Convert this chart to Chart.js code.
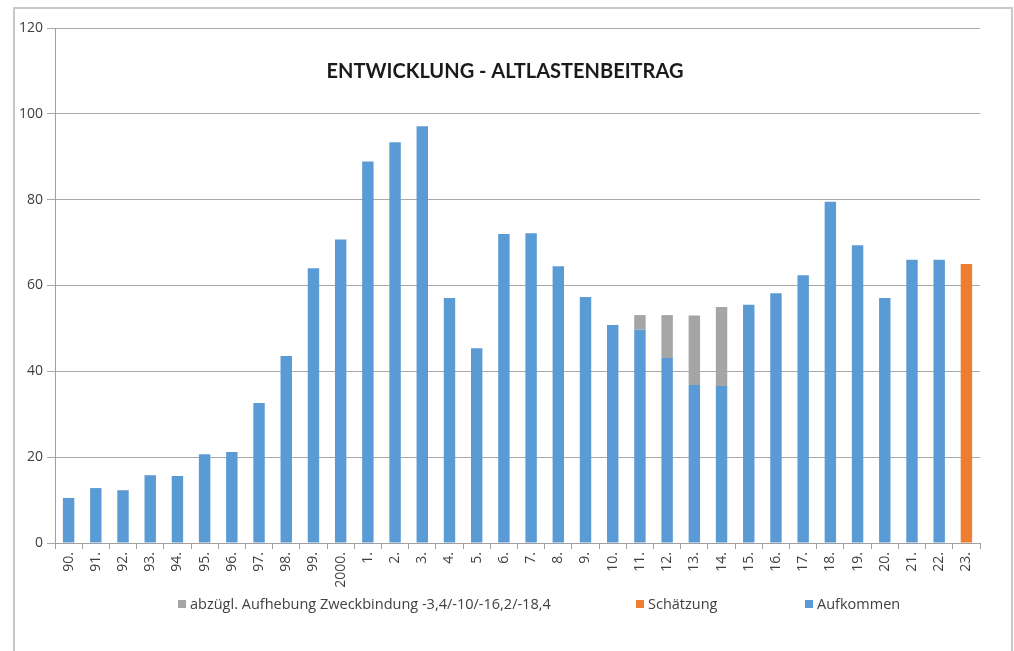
<!DOCTYPE html>
<html>
<head>
<meta charset="utf-8">
<script src="https://cdn.jsdelivr.net/npm/chart.js@4.4.1/dist/chart.umd.min.js"></script>
<style>
  body { margin: 0; background: #fff; }
  #wrap { position: relative; width: 1014px; height: 651px; overflow: hidden; }
  #frame { position: absolute; left: 13px; top: 7px; width: 996px; height: 700px; border: 2px solid #c8c8c8; border-bottom: none; }
  #chart { position: absolute; left: 0; top: 0; }
</style>
</head>
<body>
<div id="wrap">
  <div id="frame"></div>
  <canvas id="chart" width="1014" height="651"></canvas>
</div>
<script>
// Kategorien (Jahre)
const years = ['90.', '91.', '92.', '93.', '94.', '95.', '96.', '97.', '98.', '99.', '2000.',
  '1.', '2.', '3.', '4.', '5.', '6.', '7.', '8.', '9.', '10.', '11.', '12.', '13.', '14.',
  '15.', '16.', '17.', '18.', '19.', '20.', '21.', '22.', '23.'];

// Aufkommen (blau)
const aufkommen = [10.5, 12.8, 12.3, 15.8, 15.6, 20.7, 21.2, 32.6, 43.6, 64.0, 70.7,
  88.9, 93.4, 97.1, 57.1, 45.4, 72.0, 72.2, 64.5, 57.3, 50.8, 49.7, 43.1, 36.8, 36.6,
  55.5, 58.2, 62.4, 79.5, 69.4, 57.1, 66.0, 66.0, null];

// abzügl. Aufhebung Zweckbindung (grau), gestapelt auf Aufkommen
const zweckbindung = [null, null, null, null, null, null, null, null, null, null, null,
  null, null, null, null, null, null, null, null, null, null, 3.4, 10, 16.2, 18.4,
  null, null, null, null, null, null, null, null, null];

// Schätzung (orange)
const schaetzung = [null, null, null, null, null, null, null, null, null, null, null,
  null, null, null, null, null, null, null, null, null, null, null, null, null, null,
  null, null, null, null, null, null, null, null, 65];

const yTicks = [0, 20, 40, 60, 80, 100, 120];

const chartTitle = 'ENTWICKLUNG - ALTLASTENBEITRAG';
const FONT = '"Open Sans", Lato, sans-serif';

// Titel im Diagramm
const titlePlugin = {
  id: 'innerTitle',
  afterDraw(chart) {
    const ctx = chart.ctx;
    ctx.save();
    ctx.font = 'bold 20px Lato, sans-serif';
    ctx.fillStyle = '#1a1a1a';
    ctx.textAlign = 'center';
    ctx.textBaseline = 'middle';
    ctx.fillText(chartTitle, 505, 72);
    ctx.restore();
  }
};

// Legende unten, Reihenfolge wie im Original
const legendPos = [178, 636, 805];
const legendOrder = [1, 2, 0];
const legendPlugin = {
  id: 'bottomLegend',
  afterDraw(chart) {
    const ctx = chart.ctx;
    ctx.save();
    ctx.font = '14.5px ' + FONT;
    ctx.textBaseline = 'middle';
    ctx.textAlign = 'left';
    legendOrder.forEach((dsIndex, i) => {
      const ds = chart.data.datasets[dsIndex];
      const x = legendPos[i];
      const y = 604;
      ctx.fillStyle = ds.backgroundColor;
      ctx.fillRect(x, y - 4, 8, 8);
      ctx.fillStyle = '#404040';
      ctx.fillText(ds.label, x + 12, y + 1);
    });
    ctx.restore();
  }
};

const ctx = document.getElementById('chart').getContext('2d');

new Chart(ctx, {
  type: 'bar',
  data: {
    labels: years,
    datasets: [
      {
        label: 'Aufkommen',
        data: aufkommen,
        backgroundColor: '#5b9bd5',
        barPercentage: 0.42,
        categoryPercentage: 1
      },
      {
        label: 'abzügl. Aufhebung Zweckbindung -3,4/-10/-16,2/-18,4',
        data: zweckbindung,
        backgroundColor: '#a5a5a5',
        barPercentage: 0.42,
        categoryPercentage: 1
      },
      {
        label: 'Schätzung',
        data: schaetzung,
        backgroundColor: '#ed7d31',
        barPercentage: 0.42,
        categoryPercentage: 1
      }
    ]
  },
  options: {
    responsive: false,
    animation: false,
    layout: {
      padding: { left: 14, right: 34, top: 28, bottom: 58 }
    },
    plugins: {
      legend: { display: false },
      title: { display: false },
      tooltip: { enabled: false }
    },
    scales: {
      x: {
        stacked: true,
        afterFit: function (scale) { scale.height = 50; },
        border: { color: '#a0a0a0' },
        grid: {
          drawOnChartArea: false,
          tickLength: 6,
          color: '#a0a0a0',
          offset: true
        },
        ticks: {
          autoSkip: false,
          minRotation: 90,
          maxRotation: 90,
          padding: 3,
          color: '#404040',
          font: { family: FONT, size: 14 }
        }
      },
      y: {
        stacked: true,
        min: 0,
        max: 120,
        afterFit: function (scale) { scale.width = 41; },
        afterBuildTicks: function (scale) {
          scale.ticks = yTicks.map(v => ({ value: v }));
        },
        border: { color: '#a0a0a0' },
        grid: {
          color: '#a8a8a8',
          tickLength: 8
        },
        ticks: {
          padding: 4,
          color: '#404040',
          font: { family: FONT, size: 14 }
        }
      }
    }
  },
  plugins: [titlePlugin, legendPlugin]
});
</script>
</body>
</html>
